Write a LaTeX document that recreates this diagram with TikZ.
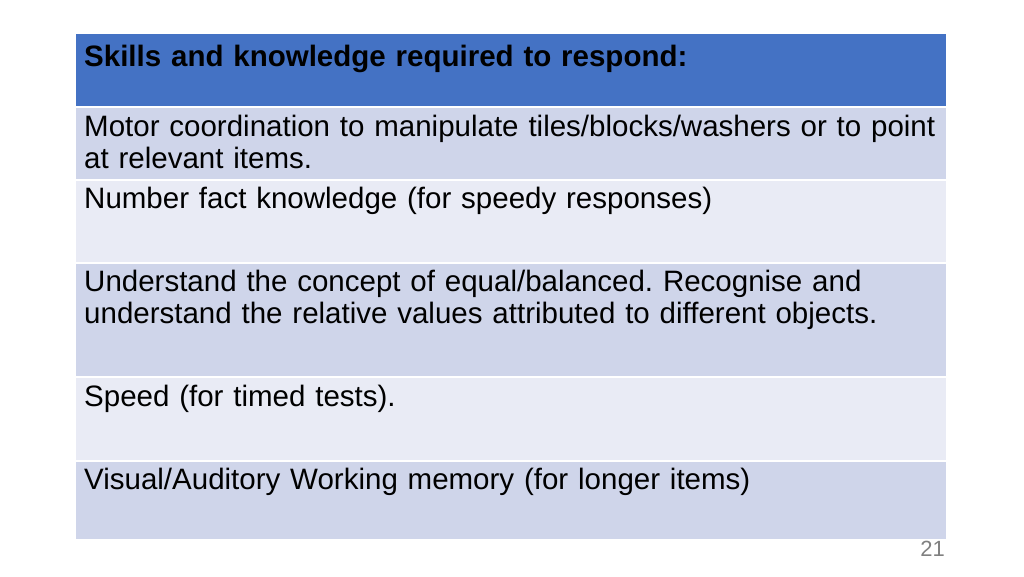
\documentclass[tikz,border=0pt]{standalone}
\usepackage{fontspec}
\setmainfont{Liberation Sans}
\begin{document}
\frenchspacing
\begin{tikzpicture}[x=1pt,y=-1pt,
  cell/.style={anchor=north west,inner sep=0pt,text width=880pt,align=left,font=\fontsize{29.5}{32}\selectfont},
  sep/.style={white,line width=2pt}]
\useasboundingbox (0,0) rectangle (1024,576);
\definecolor{hd}{HTML}{4472C4}
\definecolor{ra}{HTML}{CFD5EA}
\definecolor{rb}{HTML}{E9EBF5}
\fill[hd] (76,34) rectangle (946,107);
\fill[ra] (76,107) rectangle (946,180);
\fill[rb] (76,180) rectangle (946,263);
\fill[ra] (76,263) rectangle (946,377);
\fill[rb] (76,377) rectangle (946,461);
\fill[ra] (76,461) rectangle (946,539);
\foreach \y in {107,180,263,377,461} \draw[sep] (76,\y) -- (946,\y);
\node[cell,font=\fontsize{29.5}{32}\selectfont\bfseries] (h) at (84,45) {Skills and knowledge required to respond:};
\node[cell] (r1) at (84,115) {Motor coordination to manipulate tiles/blocks/washers or to point\\at relevant items.};
\node[cell] (r2) at (84,187) {Number fact knowledge (for speedy responses)};
\node[cell] (r3) at (84,270) {Understand the concept of equal/balanced. Recognise and\\understand the relative values attributed to different objects.};
\node[cell] (r4) at (84,385) {Speed (for timed tests).};
\node[cell] (r5) at (84,468) {Visual/Auditory Working memory (for longer items)};
\node[anchor=east,inner sep=0pt,text=gray,font=\fontsize{22}{24}\selectfont] (pg) at (945,549) {21};
\end{tikzpicture}
\end{document}
